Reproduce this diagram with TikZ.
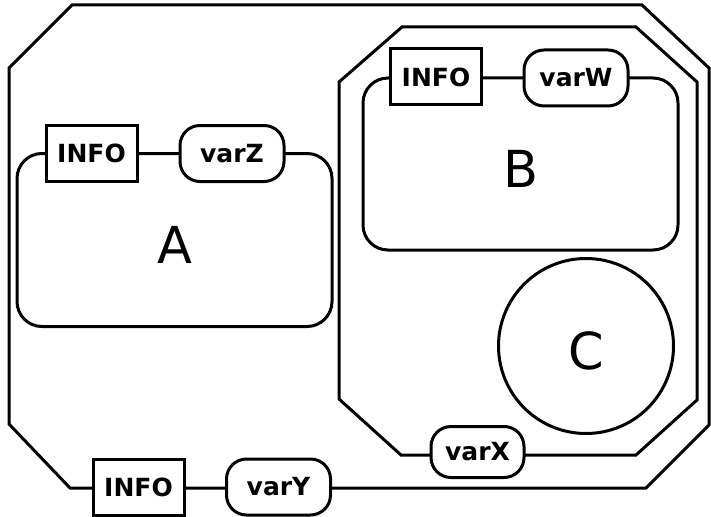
\documentclass[tikz,border=0pt]{standalone}
\usepackage{fontspec}
\setmainfont{DejaVu Sans}
\usepackage{tikz}
\usetikzlibrary{positioning}

\begin{document}
\begin{tikzpicture}[x=1pt, y=-1pt, line width=3pt,
	region/.style={draw, rounded corners=25pt, inner sep=0pt, text height=47pt, text depth=0pt, font=\fontsize{51}{60}\selectfont},
	infobox/.style={draw, fill=white, inner sep=0pt, minimum width=91pt, minimum height=56pt, font=\bfseries\fontsize{25}{30}\selectfont},
	varpill/.style={draw, fill=white, rounded corners=20pt, inner sep=0pt, minimum width=104pt, minimum height=56pt, font=\bfseries\fontsize{25}{30}\selectfont}]
	\useasboundingbox (0,0) rectangle (711,516);
	% outer and inner octagons
	\draw (72,5) -- (642,5) -- (709,68) -- (709,425) -- (646,488) -- (70,488) -- (9,424) -- (9,68) -- cycle;
	\draw (402,27) -- (636,27) -- (697,82) -- (697,400) -- (636,455) -- (401,455) -- (339,399) -- (339,82) -- cycle;
	% regions
	\node[region, minimum width=315pt, minimum height=173pt] (A) at (174.5,240) {A};
	\node[region, minimum width=315pt, minimum height=172pt] (B) at (520.5,164) {B};
	\node[draw, circle, minimum size=175pt, inner sep=0pt, text height=47pt, text depth=0pt, font=\fontsize{51}{60}\selectfont] (C) at (586,346) {C};
	% labels on the borders
	\node[infobox] (infoA) at (91.5,153.5) {INFO};
	\node[varpill] (varZ) at (232,153.5) {varZ};
	\node[infobox] (infoB) at (436,77) {INFO};
	\node[varpill] (varW) at (576,78) {varW};
	\node[varpill, minimum width=93pt, minimum height=51pt] (varX) at (477.5,452) {varX};
	\node[infobox] (infoO) at (138.5,487) {INFO};
	\node[varpill] (varY) at (278.5,487) {varY};
\end{tikzpicture}
\end{document}
